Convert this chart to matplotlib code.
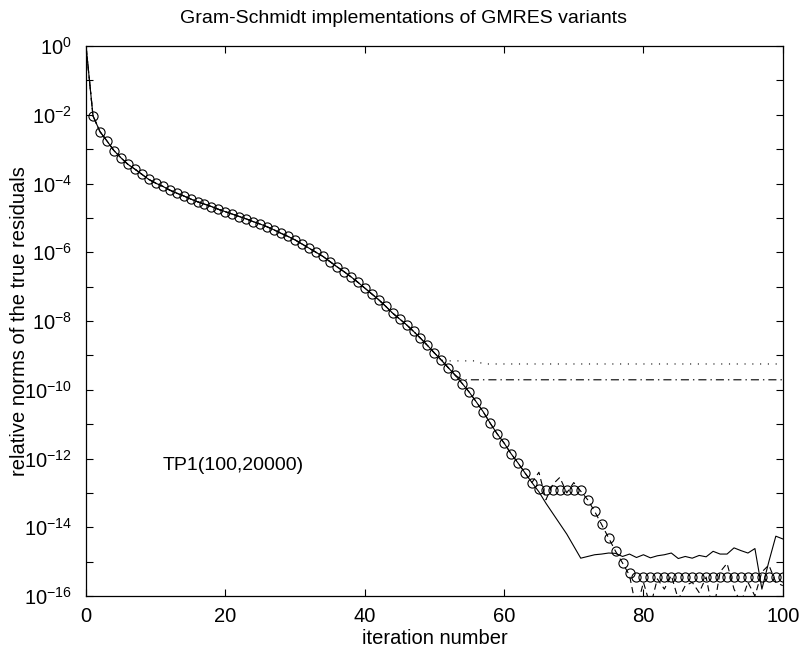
import matplotlib
matplotlib.use("Agg")
import matplotlib.pyplot as plt
import numpy as np
from matplotlib.ticker import FixedLocator, FuncFormatter, NullLocator

plt.rcParams.update({
    "font.family": ["Liberation Sans", "DejaVu Sans"],
    "mathtext.fontset": "custom",
    "mathtext.rm": "Liberation Sans",
    "lines.scale_dashes": False,
})

iterations = np.arange(0, 101)

# log10 of the relative residual norms
common_log = [
    0.00, -2.03, -2.49, -2.76, -3.04, -3.25, -3.44, -3.58, -3.73, -3.88,
    -3.99, -4.08, -4.19, -4.28, -4.36, -4.45, -4.53, -4.60, -4.67, -4.75,
    -4.82, -4.89, -4.96, -5.03, -5.11, -5.18, -5.26, -5.35, -5.45, -5.54,
    -5.64, -5.76, -5.88, -6.00, -6.12, -6.27, -6.42, -6.56, -6.71, -6.87,
    -7.04, -7.21, -7.38, -7.57, -7.77, -7.94, -8.11, -8.30, -8.50, -8.71,
    -8.93, -9.14, -9.36, -9.58, -9.82, -10.07, -10.35, -10.64, -10.97, -11.28,
    -11.55, -11.86, -12.13, -12.42, -12.70,
]  # iterations 0..64

circles_tail = [
    -12.88, -12.91, -12.91, -12.92, -12.91, -12.92, -12.93,
    -13.20, -13.54, -13.92, -14.31, -14.70, -15.04, -15.33,
    -15.45, -15.45, -15.45, -15.45, -15.45, -15.45, -15.45, -15.45,
    -15.45, -15.45, -15.45, -15.45, -15.45, -15.45, -15.45, -15.45,
    -15.45, -15.45, -15.45, -15.45, -15.45, -15.45,
]  # 65..100

solid_tail = [
    -12.97, -13.30, -13.60, -13.90, -14.20, -14.55, -14.90,
    -14.85, -14.80, -14.78, -14.75, -14.76, -14.85, -14.78, -14.88, -14.80,
    -14.89, -14.83, -14.80, -14.75, -14.91, -14.85, -14.90, -14.82, -14.86,
    -14.70, -14.78, -14.78, -14.60, -14.68, -14.75, -14.62, -15.80, -15.00,
    -14.26, -14.34,
]  # 65..100

dashed_tail = [
    -12.40, -13.20, -12.75, -12.55, -13.00, -12.70, -12.95,
    -13.20, -13.54, -13.92, -14.31, -14.70, -15.04, -15.40,
    -16.40, -15.60, -16.30, -15.50, -15.80, -15.40, -16.10, -15.70, -15.60,
    -15.90, -15.45, -16.50, -15.30, -15.05, -15.80, -16.20, -15.60, -16.00,
    -15.30, -15.10, -15.60, -15.70,
]  # 65..100

dotted_tail = [-9.16] * 5 + [-9.25] * 44      # 52..100
dashdot_tail = [-9.71] * 47                   # 54..100

circles = np.array(common_log + circles_tail)
solid = np.array(common_log + solid_tail)
dashed = np.array(common_log + dashed_tail)
dotted = np.array(common_log[:52] + dotted_tail)
dashdot = np.array(common_log[:54] + dashdot_tail)

fig = plt.figure(figsize=(8.07, 6.52), dpi=100)
ax = fig.add_axes([0.1066, 0.0859, 0.8634, 0.8435])

lw = 0.8
ax.semilogy(iterations, 10.0 ** solid, color="black", lw=lw)
ax.semilogy(iterations, 10.0 ** dotted, color="black", lw=lw, linestyle=(0, (0.8, 4.8)))
ax.semilogy(iterations, 10.0 ** dashdot, color="black", lw=lw,
            linestyle=(0, (5.8, 2.9, 1.0, 2.9)))
ax.semilogy(iterations, 10.0 ** dashed, color="black", lw=lw, linestyle=(0, (4.5, 3.0)))
ax.semilogy(iterations[1:], 10.0 ** circles[1:], linestyle="none", marker="o",
            markersize=6.6, markerfacecolor="none", markeredgecolor="black",
            markeredgewidth=0.8)

ax.set_xlim(0, 100)
ax.set_ylim(1e-16, 1e0)

decades = np.arange(-16, 1)
ax.yaxis.set_major_locator(FixedLocator(10.0 ** decades))
ax.yaxis.set_minor_locator(NullLocator())
ax.yaxis.set_major_formatter(FuncFormatter(
    lambda v, pos: (r"$\mathdefault{10^{%d}}$" % round(np.log10(v)))
    if round(np.log10(v)) % 2 == 0 else ""))
ax.set_xticks([0, 20, 40, 60, 80, 100])

ax.tick_params(which="both", direction="in", top=True, right=True,
               length=5, width=0.8, labelsize=14.5)
ax.tick_params(axis="x", pad=8)
ax.tick_params(axis="y", pad=10)
for side in ax.spines.values():
    side.set_linewidth(0.9)

ax.set_xlabel("iteration number", fontsize=14.5, labelpad=2)
ax.set_ylabel("relative norms of the true residuals", fontsize=14.5)
ax.yaxis.set_label_coords(-0.082, 0.5)
fig.text(0.5, 0.972, "Gram-Schmidt implementations of GMRES variants",
         fontsize=14, ha="center", va="center")
ax.text(11, 10 ** -12.2, "TP1(100,20000)", fontsize=14, va="center", ha="left")

fig.savefig("out.png", dpi=100)
